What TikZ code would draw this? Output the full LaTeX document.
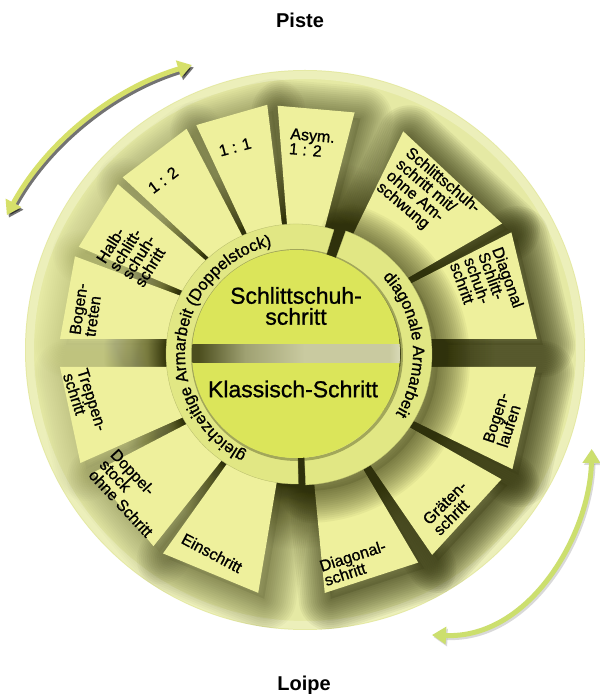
\documentclass[tikz,border=0pt]{standalone}
\usepackage{fontspec}
\setmainfont{Liberation Sans}
\newfontfamily\medfont{Liberation Sans}[FakeBold=1.0]
\usetikzlibrary{arrows.meta,decorations.text,calc}
\definecolor{sectcol}{HTML}{EEF09C}
\definecolor{ringcol}{HTML}{E1E784}
\definecolor{corecol}{HTML}{DBE55A}
\definecolor{rimcol}{HTML}{E5E9A4}
\definecolor{rimlight}{HTML}{EFF2C4}
\definecolor{shadowcol}{HTML}{2F310C}
\definecolor{midsh}{HTML}{8A8C50}
\definecolor{arrowcol}{HTML}{D6E06A}
\definecolor{arrowcolb}{HTML}{CCDF6E}
\definecolor{bandd}{HTML}{4C4E1E}
\definecolor{bandm}{HTML}{9FA172}
\definecolor{bandl}{HTML}{C9CAA0}
\definecolor{bandx}{HTML}{DCDDBC}
\pgfdeclareradialshading{gapshade}{\pgfpoint{0bp}{0bp}}{color(0bp)=(shadowcol); color(13bp)=(shadowcol); color(15.5bp)=(midsh); color(20bp)=(rimcol); color(50bp)=(rimcol)}
\pgfdeclarehorizontalshading{bandshade}{100bp}{color(0bp)=(bandd); color(27bp)=(bandd); color(38bp)=(bandm); color(52bp)=(bandl); color(72bp)=(bandl); color(75bp)=(bandx); color(100bp)=(bandx)}
\tikzset{
  lbl/.style={font=\medfont\fontsize{16}{15}\selectfont, align=left, inner sep=0pt},
  bigl/.style={font=\medfont\fontsize{23}{21}\selectfont, align=center, inner sep=0pt},
  ptitle/.style={font=\bfseries\fontsize{20}{20}\selectfont, anchor=base, inner sep=0pt},
  ringfill/.style={fill=ringcol, draw=ringcol!80!black, line width=0.3pt},
  arrowline/.style={line width=5pt, {Triangle[width=17pt,length=14pt]}-{Triangle[width=17pt,length=14pt]}},
}
\newcommand\sectp[3]{(0,0) -- (#1:#3) -- (#2:#3) -- cycle}
\newcommand\ringp[4]{(#1:#3) arc[start angle=#1, end angle=#2, radius=#3] -- (#2:#4) arc[start angle=#2, end angle=#1, radius=#4] -- cycle}
\newcommand\softshadow[3]{%
  \begin{scope}[shift={(#1)}, shift={(6,-6)}]
    \foreach \w in {64,60,...,4}{\draw[shadowcol, line width=\w pt, line join=round, opacity=#3] #2;}
    \fill[shadowcol, opacity=#3*3] #2;
  \end{scope}}
\def\sectorlist{296/355/159.5/180/236/0.008, 296/355/139/157/236/0.012, 296/355/117.5/137/237/0.018, 296/355/97/115/236/0.028, 296/355/75.5/94.5/234/0.045, 302/355/30/64/231/0.065, 302/355/0/27/235/0.07, 296/327/180/204/236/0.010, 296/327/207.5/231.5/229/0.018, 296/327/234.5/260.5/229/0.035, 303/327/275.5/300.5/227/0.06, 303/327/304.5/330.5/228/0.07, 303/327/334/360/233/0.07}
\begin{document}
\begin{tikzpicture}[x=1pt,y=1pt]
\useasboundingbox (0,0) rectangle (600,694);
\fill[white] (0,0) rectangle (600,694);
% outer disc
\fill[rimcol] (305,344) circle[radius=280];
\draw[rimlight, line width=8pt, opacity=0.7] (305,344) circle[radius=275];
\begin{scope}
  \clip (305,344) circle[radius=280];
  \shade[shading=gapshade] (299,341) circle[radius=245];
  \foreach \cx/\cy/\aa/\ab/\rr/\st in \sectorlist {\softshadow{\cx,\cy}{\sectp{\aa}{\ab}{\rr}}{\st}}
\end{scope}
% sectors
\foreach \cx/\cy/\aa/\ab/\rr/\st in \sectorlist {\fill[sectcol, shift={(\cx,\cy)}] \sectp{\aa}{\ab}{\rr};}
% ring shadows and rings
\begin{scope}
  \clip (305,344) circle[radius=280];
  \softshadow{301,340}{\ringp{-88}{70}{131}{100}}{0.05}
\end{scope}
\fill[ringfill, shift={(296,340)}] \ringp{73}{271}{130}{100};
\fill[ringfill, shift={(301,340)}] \ringp{-88}{70}{131}{100};
% core disc
\draw[shadowcol, opacity=0.35, line width=3pt] (297,339) circle[radius=104.5];
\fill[corecol] (296,340) circle[radius=104];
\begin{scope}
  \clip (296,340) circle[radius=104];
  \shade[shading=bandshade] (190,331) rectangle (402,349);
\end{scope}
% ring texts
\path[decorate, decoration={text along path, text align=center,
  text={|\medfont\fontsize{16.5}{16.5}\selectfont|gleichzeitige Armarbeit (Doppelstock)}}]
  (296,340) ++(253:111) arc[start angle=253, end angle=93, radius=111];
\path[decorate, decoration={text along path, text align=center,
  text={|\medfont\fontsize{16.5}{16.5}\selectfont|diagonale Armarbeit}}]
  (301,340) ++(65.5:112) arc[start angle=65.5, end angle=-54.5, radius=112];
% centre labels
\node[bigl] (skate) at (296,388) {Schlittschuh-\\schritt};
\node[bigl] (classic) at (293,305) {Klassisch-Schritt};
% sector labels
\node[lbl, rotate=82] (s1) at (86,384) {Bogen-\\treten};
\node[lbl, rotate=58] (s2) at (132,441) {Halb-\\schlitt-\\schuh-\\schritt};
\node[lbl, rotate=37] (s3) at (163,514) {1 : 2};
\node[lbl, rotate=15] (s4) at (235,547) {1 : 1};
\node[lbl, rotate=-5] (s5) at (312,551) {Asym.\\1 : 2};
\node[lbl, rotate=-40] (s6) at (428,496) {Schlittschuh-\\schritt mit/\\ohne Am-\\schwung};
\node[lbl, rotate=-70] (s7) at (487,409) {Diagonal\\Schlitt-\\schuh-\\schritt};
\node[lbl, rotate=-72] (s8) at (85,292) {Treppen-\\schritt};
\node[lbl, rotate=-47] (s9) at (132,201) {Doppel-\\stock\\ohne Schritt};
\node[lbl, rotate=-28] (s10) at (212,141) {Einschritt};
\node[lbl, rotate=18] (s11) at (355,131) {Diagonal-\\schritt};
\node[lbl, rotate=45] (s12) at (450,186) {Gräten-\\schritt};
\node[lbl, rotate=72] (s13) at (503,274) {Bogen-\\laufen};
% arrows
\coordinate (tlS) at ($(281,330)+(151.5:312)$);
\coordinate (tlSsh) at ($(283,327.5)+(151.5:312)$);
\draw[black, opacity=0.55, arrowline] (tlSsh) arc[start angle=151.5, end angle=106.6, radius=312];
\draw[arrowcol, arrowline] (tlS) arc[start angle=151.5, end angle=106.6, radius=312];
\coordinate (brS) at (432,59);
\coordinate (brE) at (591.7,245);
\draw[black, opacity=0.15, arrowline] ([shift={(1.5,-2)}]brS) .. controls (531.5,53) and (591.5,158) .. ([shift={(1.5,-2)}]brE);
\draw[arrowcolb, arrowline] (brS) .. controls (530,55) and (590,160) .. (brE);
% titles
\node[ptitle] (piste) at (300,666) {Piste};
\node[ptitle] (loipe) at (304,4) {Loipe};
\end{tikzpicture}
\end{document}
